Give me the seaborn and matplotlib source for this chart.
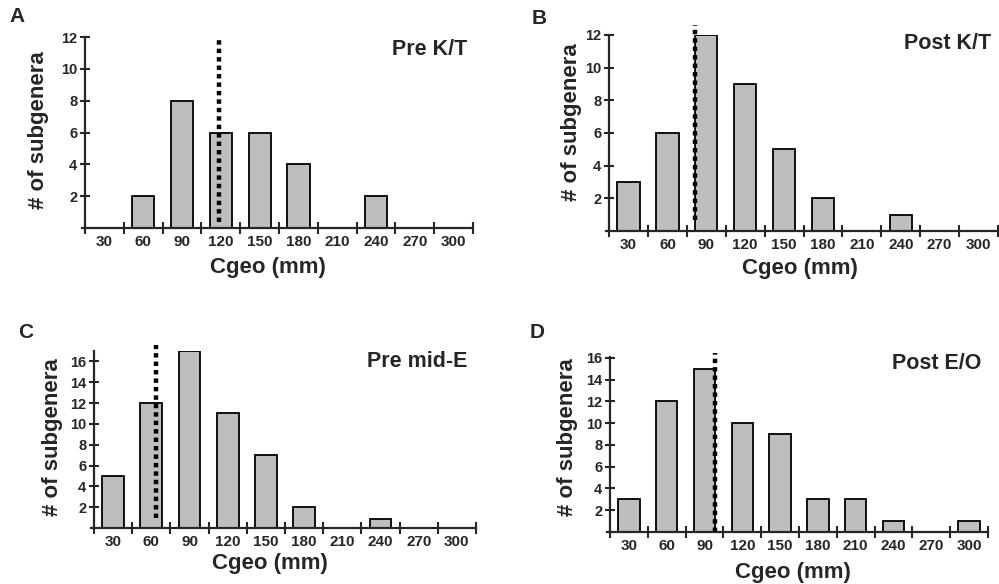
import numpy as np
import matplotlib
matplotlib.use("Agg")
import matplotlib.pyplot as plt
import seaborn as sns

# data
cgeo = ['30', '60', '90', '120', '150', '180', '210', '240', '270', '300']
pre_kt = [0, 2, 8, 6, 6, 4, 0, 2, 0, 0]
post_kt = [3, 6, 12, 9, 5, 2, 0, 1, 0, 0]
pre_mide = [5, 12, 17, 11, 7, 2, 0, 0.9, 0, 0]
post_eo = [3, 12, 15, 10, 9, 3, 3, 1, 0, 1]
# dotted line marks (Cgeo in mm) and their vertical extent
mark_mm = [118.5, 81.6, 63.6, 98.0]
mark_span = [(0.4, 11.9), (0.7, 12.6), (0.96, 17.6), (0.0, 16.45)]

titles = ['Pre K/T', 'Post K/T', 'Pre mid-E', 'Post E/O']
letters = ['A', 'B', 'C', 'D']
series = [pre_kt, post_kt, pre_mide, post_eo]
ytop = [12, 12, 17, 16.1]
yticks = [range(2, 13, 2), range(2, 13, 2), range(2, 17, 2), range(2, 17, 2)]

sns.set_style("ticks")
plt.rcParams['font.family'] = ['Liberation Sans', 'DejaVu Sans']
plt.rcParams['font.weight'] = 'bold'

fig = plt.figure(figsize=(9.99, 5.84), dpi=100)

# axes boxes [left, bottom, width, height] in figure fraction
boxes = [[0.0821, 0.6096, 0.3914, 0.327],
         [0.6066, 0.6045, 0.3924, 0.3356],
         [0.0911, 0.0959, 0.3854, 0.303],
         [0.6076, 0.0890, 0.3814, 0.300]]
ylab_xy = [(-0.085, 0.513), (-0.061, 0.556), (-0.073, 0.514), (-0.076, 0.543)]
xlab_xy = [(0.476, -0.150), (0.495, -0.138), (0.465, -0.140), (0.488, -0.171)]
title_xy = [(0.985, 0.935), (0.982, 0.955), (0.977, 0.94), (0.982, 0.962)]
letter_px = [(17, 17), (539, 18), (26, 333), (537, 332)]

for i in range(4):
    ax = fig.add_axes(boxes[i])
    sns.barplot(x=cgeo, y=series[i], order=cgeo, color='#bebebe', saturation=1,
                edgecolor='black', linewidth=1.3, width=0.57, ax=ax)
    ax.set_xlim(-0.58, 9.5)
    ax.set_ylim(0, ytop[i])
    sns.despine(ax=ax)
    ax.spines['left'].set_position(('data', -0.5))
    ax.spines['left'].set_linewidth(1.6)
    ax.spines['bottom'].set_linewidth(1.6)

    # boundary ticks on x, labels at bar centres
    ax.set_xticks(np.arange(-0.5, 10, 1))
    ax.set_xticklabels([])
    ax.set_xticks(range(len(cgeo)), minor=True)
    ax.set_xticklabels(cgeo, minor=True, fontsize=11, fontweight='bold')
    ax.tick_params(axis='x', which='major', direction='inout', length=8, width=1.5)
    ax.tick_params(axis='x', which='minor', length=0, pad=5)
    ax.set_yticks(list(yticks[i]))
    ax.set_yticklabels([str(v) for v in yticks[i]], fontsize=10.5, fontweight='bold')
    ax.tick_params(axis='y', direction='inout', length=7, width=1.5, pad=2)

    # dotted marker line
    xm = (mark_mm[i] - 30) / 30
    ax.plot([xm, xm], list(mark_span[i]), color='black', lw=3.2,
            linestyle=(0, (1, 0.9)), dash_capstyle='butt', clip_on=False, zorder=5)

    ax.set_ylabel('# of subgenera', fontsize=16, fontweight='bold')
    ax.yaxis.set_label_coords(*ylab_xy[i])
    ax.set_xlabel('Cgeo (mm)', fontsize=16, fontweight='bold')
    ax.xaxis.set_label_coords(*xlab_xy[i])
    ax.text(title_xy[i][0], title_xy[i][1], titles[i], transform=ax.transAxes,
            ha='right', va='center', fontsize=15.5, fontweight='bold')

    fig.text(letter_px[i][0] / 999, 1 - letter_px[i][1] / 584, letters[i],
             ha='center', va='center', fontsize=15, fontweight='bold')

fig.savefig('out.png', dpi=100)
